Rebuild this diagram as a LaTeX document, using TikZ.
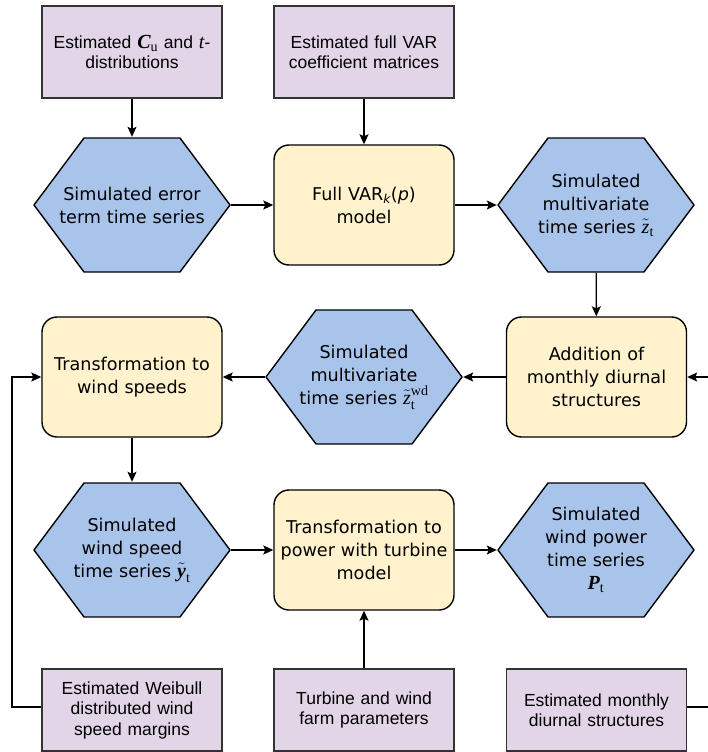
\documentclass[tikz,border=0pt]{standalone}
\usepackage{amsmath}
\usepackage{fontspec}
\setmainfont{Liberation Sans}
\newfontfamily\hexfont{DejaVu Sans}
\newfontfamily\tms{Liberation Serif}
\usetikzlibrary{arrows.meta}
\definecolor{purp}{HTML}{E1D5E7}
\definecolor{blu}{HTML}{A9C4EB}
\definecolor{yel}{HTML}{FFF2CC}
\newcommand{\mbig}[1]{{\fontsize{20}{22}\selectfont #1}}
\begin{document}
\begin{tikzpicture}[x=1pt,y=-1pt,
  inbox/.style={rectangle, draw=black!80, line width=1.4pt, fill=purp,
    minimum width=180pt, minimum height=92pt, text width=176pt, align=center,
    inner sep=0pt, font=\fontsize{17.5}{20.5}\selectfont},
  proc/.style={rectangle, rounded corners=15pt, draw=black, line width=1.4pt,
    fill=yel, minimum width=180pt, minimum height=120pt, text width=178pt,
    align=center, inner sep=0pt, font=\hexfont\fontsize{17.6}{23}\selectfont},
  hex/.style={rectangle, minimum width=198pt, minimum height=136pt, inner sep=0pt,
    text width=176pt, align=center, font=\hexfont\fontsize{17.6}{23}\selectfont,
    path picture={
      \path[fill=blu, draw=black, line width=1.4pt, line join=round]
        ([xshift=1pt]path picture bounding box.west)
        -- ([xshift=51pt,yshift=-1pt]path picture bounding box.north west)
        -- ([xshift=-51pt,yshift=-1pt]path picture bounding box.north east)
        -- ([xshift=-1pt]path picture bounding box.east)
        -- ([xshift=-51pt,yshift=1pt]path picture bounding box.south east)
        -- ([xshift=51pt,yshift=1pt]path picture bounding box.south west)
        -- cycle;}},
  arr/.style={-{Stealth[length=10pt,width=9pt,inset=2pt]}, line width=1.4pt},
  link/.style={line width=1.4pt}
]
\useasboundingbox (0,0) rectangle (708,752);
\clip (0,0) rectangle (708,752);

% top inputs
\node[inbox] (cu) at (132,52) {Estimated \mbig{{\tms\bfseries\itshape C}\textsubscript{\tms u}} and \mbig{\tms\itshape t}-\\distributions};
\node[inbox] (var) at (364,52) {Estimated full VAR\\coefficient matrices};

% row 1
\node[hex] (err) at (132,205) {Simulated error\\term time series};
\node[proc] (full) at (364,205) {Full VAR\textsubscript{\itshape k}(\textit{p})\\model};
\node[hex] (zt) at (596,205) {Simulated\\multivariate\\time series \mbig{$\tilde{\text{\tms\itshape z}}_{\text{\tms t}}$}};

% row 2
\node[proc] (tws) at (132,377) {Transformation to\\wind speeds};
\node[hex] (zwd) at (364,377) {Simulated\\multivariate\\time series \mbig{$\tilde{\text{\tms\itshape z}}_{\text{\tms t}}^{\text{\tms wd}}$}};
\node[proc] (add) at (596.5,377) {Addition of\\monthly diurnal\\structures};

% row 3
\node[hex] (yt) at (132,550) {Simulated\\wind speed\\time series \mbig{$\tilde{\text{\tms\bfseries\itshape y}}_{\text{\tms t}}$}};
\node[proc] (pow) at (364,550) {Transformation to\\power with turbine\\model};
\node[hex] (pt) at (596,550) {Simulated\\wind power\\time series\\\mbig{{\tms\bfseries\itshape P}\textsubscript{\tms t}}};

% bottom inputs
\node[inbox, minimum height=82pt] (wei) at (132,710) {Estimated Weibull\\distributed wind\\speed margins};
\node[inbox, minimum height=82pt] (turb) at (364,710) {Turbine and wind\\farm parameters};
\node[inbox, minimum height=82pt] (diur) at (596.5,710) {Estimated monthly\\diurnal structures};

% connectors
\draw[arr] (cu) -- (err);
\draw[arr] (var) -- (full);
\draw[arr] (err) -- (full);
\draw[arr] (full) -- (zt);
\draw[arr] (zt) -- (add);
\draw[arr] (add) -- (zwd);
\draw[arr] (zwd) -- (tws);
\draw[arr] (tws) -- (yt);
\draw[arr] (yt) -- (pow);
\draw[arr] (pow) -- (pt);
\draw[arr] (turb) -- (pow);

\coordinate (lb) at (12,707);
\coordinate (lt) at (12,377);
\draw[arr] ([yshift=3pt]wei.west) -- (lb) -- (lt) -- (tws.west);

\coordinate (rb) at (722,707);
\coordinate (rt) at (722,377);
\draw[arr] ([yshift=3pt]diur.east) -- (rb) -- (rt) -- (add.east);
\end{tikzpicture}
\end{document}
